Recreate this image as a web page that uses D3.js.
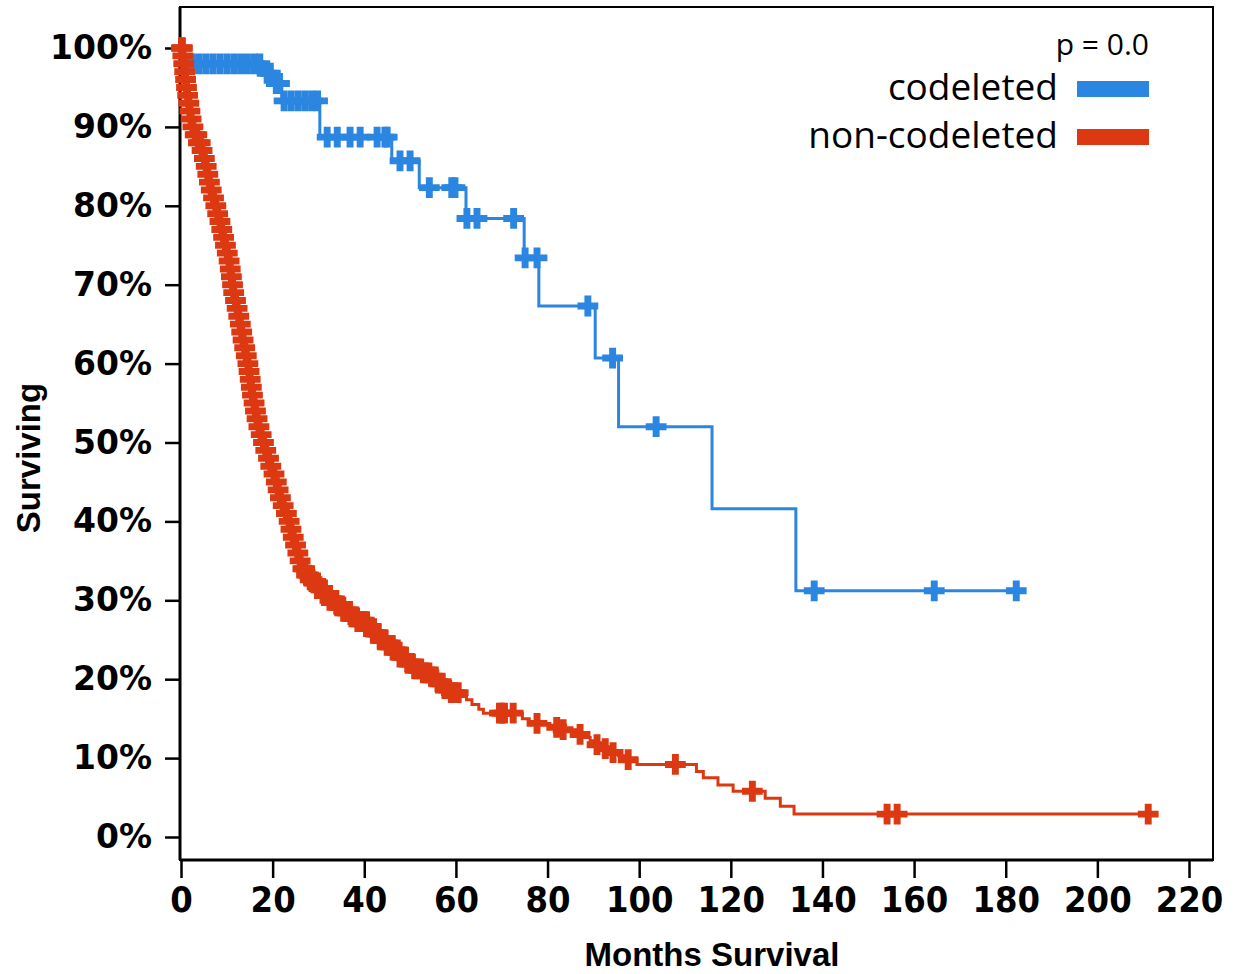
<!DOCTYPE html>
<html>
<head>
<meta charset="utf-8">
<script src="https://cdn.jsdelivr.net/npm/d3@7"></script>
<style>
    body { margin: 0; background: #fff; }
    svg { display: block; }
</style>
</head>
<body>
<div id="viz"></div>
<script>
// codeleted (blue) - step times / survival %
const blueMonths = [0, 0.8, 18.0, 20.0, 22.0, 30.3, 46.0, 52.0, 62.2, 74.9, 78.1, 90.4, 95.5, 115.9, 134.2]
const blueSurv = [100, 98.0, 96.8, 95.5, 93.3, 88.7, 85.7, 82.3, 78.4, 73.4, 67.3, 60.7, 52.0, 41.6, 31.2]
const blueCensor = [1.5, 2.5, 4.0, 5.5, 7.0, 8.5, 10.0, 11.5, 13.0, 14.5, 16.0, 17.2, 18.8, 19.5, 20.8, 21.5,
    22.5, 24.0, 25.5, 27.0, 28.5, 29.8, 31.9, 34.1, 36.9, 39.1, 42.8, 44.5, 45.0, 47.8, 50.0, 54.2, 59.1, 59.8,
    62.4, 64.6, 72.6, 75.1, 77.7, 88.8, 94.2, 103.7, 138.2, 164.4, 182.3]

// non-codeleted (red)
const redMonths = [0, 0.4, 0.6, 0.8, 1.0, 1.2, 1.45, 1.7, 1.95, 2.2, 2.6, 3.1, 3.8, 4.6, 5.1, 5.5, 5.85, 6.2,
    6.6, 7.1, 7.6, 8.0, 8.5, 8.9, 9.3, 9.7, 10.1, 10.5, 10.75, 11.0, 11.25, 11.5, 11.9, 12.25, 12.6, 12.95,
    13.25, 13.55, 13.9, 14.25, 14.6, 14.85, 15.1, 15.35, 15.6, 15.95, 16.25, 16.6, 17.0, 17.5, 18.0, 18.5,
    19.1, 19.6, 20.3, 20.8, 21.2, 21.7, 22.3, 23.0, 23.6, 24.0, 24.5, 25.0, 25.5, 26.0, 26.6, 27.4, 28.2,
    29.0, 30.0, 31.2, 32.5, 34.0, 35.5, 37.0, 38.6, 40.6, 42.0, 43.5, 45.0, 46.3, 47.8, 49.3, 51.0, 52.7,
    54.4, 56.0, 57.5, 59.0, 60.8, 62.3, 63.5, 65.0, 66.0, 74.5, 76.0, 80.5, 82.5, 86.5, 88.0, 89.3, 90.6,
    92.1, 93.8, 95.5, 97.5, 99.5, 112.5, 114.0, 117.2, 120.5, 127.5, 130.8, 133.8]
const redSurv = [100, 99, 98, 97, 96, 95, 94, 93, 92, 91, 90, 89, 88, 87, 86, 85, 84, 83,
    82, 81, 80, 79, 78, 77, 76, 75, 74, 73, 72, 71, 70, 69, 68, 67, 66, 65,
    64, 63, 62, 61, 60, 59, 58, 57, 56, 55, 54, 53, 52, 51, 50, 49,
    48, 47, 46, 45, 44, 43, 42, 41, 40, 39, 38, 37, 36, 35, 34, 33.2, 32.6,
    32.2, 31.5, 30.6, 30.0, 29.3, 28.6, 27.9, 27.3, 26.6, 25.8, 25.0, 24.3, 23.7, 22.8, 22.0, 21.3, 20.8,
    20.3, 19.5, 18.8, 18.3, 17.8, 17.4, 16.8, 16.2, 15.7, 15.0, 14.4, 13.9, 13.6, 13.0, 12.6, 12.2, 11.7,
    11.2, 10.7, 10.3, 9.8, 9.2, 8.3, 7.5, 6.6, 5.8, 4.9, 3.9, 2.9]
const redCensor = [0.1, 0.2, 0.3, 0.4, 0.6, 0.8, 1.0, 1.2, 1.45, 1.7, 1.95, 2.2, 2.6, 3.1, 3.45, 3.8, 4.2, 4.6,
    5.1, 5.5, 5.85, 6.2, 6.6, 7.1, 7.6, 8.0, 8.5, 8.9, 9.3, 9.7, 10.1, 10.5, 10.75, 11.0, 11.25, 11.5, 11.9,
    12.25, 12.6, 12.95, 13.25, 13.55, 13.9, 14.25, 14.6, 14.85, 15.1, 15.35, 15.6, 15.95, 16.25, 16.6, 17.0,
    17.5, 18.0, 18.5, 19.1, 19.6, 20.3, 20.8, 21.2, 21.7, 22.3, 23.0, 23.6, 24.0, 24.5, 25.0, 25.5, 26.0, 26.6,
    27.0, 27.4, 27.8, 28.2, 28.6, 29.0, 29.4, 29.8, 30.1, 30.5, 30.9, 31.3, 31.7, 32.1, 32.5, 33.0, 33.4, 33.8,
    34.2, 34.6, 35.0, 35.5, 35.9, 36.4, 36.8, 37.3, 37.7, 38.2, 38.6, 39.1, 39.5, 40.0, 40.5, 41.0, 41.5, 42.0,
    42.5, 43.0, 43.5, 44.0, 44.5, 45.0, 45.5, 46.1, 46.6, 47.2, 47.8, 48.4, 49.0, 49.6, 50.3, 51.0, 51.6, 52.3,
    52.9, 53.5, 54.1, 54.8, 55.5, 56.2, 56.9, 57.6, 58.3, 59.0, 59.7, 60.5, 69.5, 70.0, 70.6, 72.5, 77.7, 82.0,
    83.4, 87.1, 90.8, 92.6, 94.3, 97.6, 107.9, 124.7, 154.1, 156.3, 211.1]

const xTicks = [0, 20, 40, 60, 80, 100, 120, 140, 160, 180, 200, 220]
const yTicks = [0, 10, 20, 30, 40, 50, 60, 70, 80, 90, 100]
const groups = ['codeleted', 'non-codeleted']
const colors = ['#2a86e0', '#dc3912']
const pValue = 'p = 0.0'

const w = 1235, h = 974

const svg = d3.select('#viz')
    .append('svg')
    .attr('width', w)
    .attr('height', h)

const x = d3.scaleLinear().domain([0, 220]).range([181, 1189])
const y = d3.scaleLinear().domain([0, 100]).range([837, 48])

const frame = { left: 180, top: 7, right: 1213, bottom: 860 }

// plot frame
svg.append('rect')
    .attr('x', frame.left)
    .attr('y', frame.top)
    .attr('width', frame.right - frame.left)
    .attr('height', frame.bottom - frame.top)
    .attr('fill', 'none')
    .attr('stroke', '#000')
    .attr('stroke-width', 2)

const yAxisG = svg.append('g')
    .attr('transform', `translate(${frame.left}, 0)`)
    .call(d3.axisLeft(y).tickValues(yTicks).tickFormat(d => d + '%').tickSize(15).tickSizeOuter(0).tickPadding(13))
yAxisG.select('.domain').attr('d', `M0,${frame.top}V${frame.bottom}`).attr('stroke-width', 3)
yAxisG.selectAll('.tick line').attr('stroke-width', 2.5)
yAxisG.selectAll('text')
    .attr('font-family', '"DejaVu Sans", sans-serif')
    .attr('font-weight', 'bold')
    .attr('font-size', 33)
    .attr('fill', '#000')

const xAxisG = svg.append('g')
    .attr('transform', `translate(0, ${frame.bottom})`)
    .call(d3.axisBottom(x).tickValues(xTicks).tickSize(18).tickSizeOuter(0).tickPadding(8))
xAxisG.select('.domain').attr('d', `M${frame.left},0H${frame.right}`).attr('stroke-width', 3)
xAxisG.selectAll('.tick line').attr('stroke-width', 2.5)
xAxisG.selectAll('text')
    .attr('font-family', '"DejaVu Sans Condensed", "DejaVu Sans", sans-serif')
    .attr('font-stretch', 'condensed')
    .attr('font-weight', 'bold')
    .attr('font-size', 36)
    .attr('fill', '#000')

// axis titles
svg.append('text')
    .attr('x', 712)
    .attr('y', 966)
    .attr('text-anchor', 'middle')
    .attr('font-family', '"Liberation Sans", Arial, sans-serif')
    .attr('font-weight', 'bold')
    .attr('font-size', 33)
    .text('Months Survival')

svg.append('text')
    .attr('transform', 'translate(40, 458) rotate(-90)')
    .attr('text-anchor', 'middle')
    .attr('font-family', '"Liberation Sans", Arial, sans-serif')
    .attr('font-weight', 'bold')
    .attr('font-size', 33)
    .text('Surviving')

// survival curves
const series = [
    { months: blueMonths, surv: blueSurv, censor: blueCensor, color: colors[0] },
    { months: redMonths, surv: redSurv, censor: redCensor, color: colors[1] }
]

const stepLine = d3.line()
    .x(d => x(d[0]))
    .y(d => y(d[1]))
    .curve(d3.curveStepAfter)

const cross = d3.symbol().type(d3.symbolCross).size(240)

series.forEach(s => {
    const pts = s.months.map((m, i) => [m, s.surv[i]])
    const last = d3.max(s.censor)
    pts.push([last, s.surv[s.surv.length - 1]])
    const survAt = t => s.surv[d3.bisectRight(s.months, t) - 1]

    svg.append('path')
        .datum(pts)
        .attr('fill', 'none')
        .attr('stroke', s.color)
        .attr('stroke-width', 3)
        .attr('d', stepLine)

    svg.append('g')
        .selectAll('path')
        .data(s.censor)
        .enter()
        .append('path')
        .attr('transform', d => `translate(${x(d)}, ${y(survAt(d))})`)
        .attr('d', cross)
        .attr('fill', s.color)
})

// legend
svg.append('text')
    .attr('x', 1149)
    .attr('y', 55)
    .attr('text-anchor', 'end')
    .attr('font-family', '"Open Sans", sans-serif')
    .attr('font-size', 30)
    .text(pValue)

const legend = svg.append('g')
    .selectAll('g')
    .data(groups)
    .enter()
    .append('g')
    .attr('transform', (d, i) => `translate(0, ${i * 48})`)

legend.append('text')
    .attr('x', 1058)
    .attr('y', 100)
    .attr('text-anchor', 'end')
    .attr('font-family', '"Open Sans", sans-serif')
    .attr('font-size', 37)
    .text(d => d)

legend.append('rect')
    .attr('x', 1077)
    .attr('y', 81)
    .attr('width', 72)
    .attr('height', 16)
    .attr('fill', (d, i) => colors[i])
</script>
</body>
</html>
